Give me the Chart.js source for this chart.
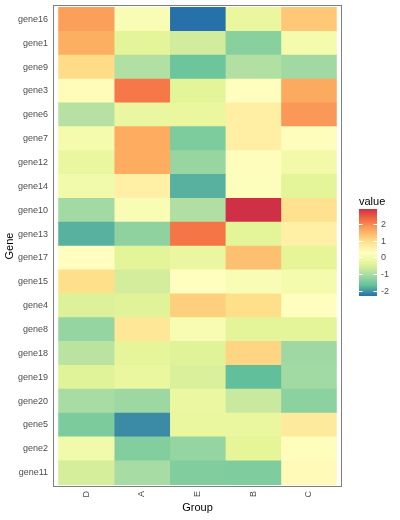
<!DOCTYPE html>
<html>
<head>
<meta charset="utf-8">
<script src="https://cdn.jsdelivr.net/npm/chart.js@4"></script>
<style>
  html, body { margin: 0; padding: 0; background: #fff; }
  #wrap { width: 400px; height: 520px; }
</style>
</head>
<body>
<div id="wrap"><canvas id="heatmap" width="400" height="520"></canvas></div>
<script>
// rows (top to bottom) and columns
var genes = ['gene16','gene1','gene9','gene3','gene6','gene7','gene12','gene14','gene10','gene13',
             'gene17','gene15','gene4','gene8','gene18','gene19','gene20','gene5','gene2','gene11'];
var groups = ['D', 'A', 'E', 'B', 'C'];

// values per group, in gene order
var valD = [1.75, 1.6, 1.0, 0.37, -0.9, 0.0, -0.24, -0.06, -1.1, -1.81, 0.31, 0.95, -0.46, -1.22, -0.85, -0.42, -1.05, -1.45, -0.06, -0.56];
var valA = [0.11, -0.38, -0.94, 2.15, -0.23, 1.63, 1.63, 0.62, 0.12, -1.28, -0.38, -0.57, -0.42, 0.79, -0.33, -0.24, -1.15, -2.12, -1.39, -1.05];
var valE = [-2.33, -0.6, -1.59, -0.38, -0.26, -1.44, -1.2, -1.81, -0.95, 2.18, -0.23, 0.31, 1.17, 0.1, -0.42, -0.5, -0.2, -0.24, -1.22, -1.4];
var valB = [-0.26, -1.33, -0.94, 0.31, 0.63, 0.63, 0.34, 0.25, 2.92, -0.38, 1.38, 0.12, 0.95, -0.38, 1.08, -1.7, -0.7, -0.26, -0.37, -1.42];
var valC = [1.26, 0.0, -1.12, 1.65, 1.83, 0.34, -0.05, -0.4, 0.9, 0.62, -0.37, 0.0, 0.31, -0.38, -1.13, -1.1, -1.3, 0.74, 0.33, 0.4];

var legendBreaks = [2, 1, 0, -1, -2];

var values = [valD, valA, valE, valB, valC];
var allVals = [].concat(valD, valA, valE, valB, valC);
var vmin = Math.min.apply(null, allVals);
var vmax = Math.max.apply(null, allVals);

// Spectral-like palette, low -> high
var palette = ['#2771ab', '#64c29a', '#abdda4', '#e6f598', '#ffffbf', '#fee08b', '#fdae61', '#f46d43', '#d03045'];
var rgbs = palette.map(function(h) {
    return [parseInt(h.substr(1, 2), 16), parseInt(h.substr(3, 2), 16), parseInt(h.substr(5, 2), 16)];
});

function colorOf(v) {
    var t = (v - vmin) / (vmax - vmin);
    t = Math.max(0, Math.min(1, t)) * (rgbs.length - 1);
    var i = Math.min(Math.floor(t), rgbs.length - 2);
    var f = t - i;
    var a = rgbs[i], b = rgbs[i + 1];
    return 'rgb(' + Math.round(a[0] + (b[0] - a[0]) * f) + ',' +
                    Math.round(a[1] + (b[1] - a[1]) * f) + ',' +
                    Math.round(a[2] + (b[2] - a[2]) * f) + ')';
}

var datasets = groups.map(function(g, c) {
    return {
        label: g,
        data: genes.map(function(gene, i) { return { x: [c, c + 1], y: i }; }),
        backgroundColor: values[c].map(colorOf),
        borderWidth: 0,
        barPercentage: 1,
        categoryPercentage: 1,
        grouped: false
    };
});

// panel border + colour bar legend
var extras = {
    id: 'extras',
    afterDatasetsDraw: function(chart) {
        var ctx = chart.ctx, a = chart.chartArea;
        ctx.save();
        ctx.strokeStyle = '#7f7f7f';
        ctx.lineWidth = 1;
        ctx.strokeRect(a.left + 0.5, a.top + 0.5, a.right - a.left - 1, a.bottom - a.top - 1);

        var bx = 359, bw = 18, top = 209, bottom = 296;
        var ppu = (bottom - top) / (vmax - vmin);
        for (var y = top; y < bottom; y++) {
            ctx.fillStyle = colorOf(vmax - (y + 0.5 - top) / ppu);
            ctx.fillRect(bx, y, bw, 1);
        }
        ctx.font = '11px "Liberation Sans", Arial, sans-serif';
        ctx.fillStyle = '#000';
        ctx.textBaseline = 'middle';
        ctx.textAlign = 'left';
        ctx.fillText('value', bx, 202);
        ctx.font = '9px "Liberation Sans", Arial, sans-serif';
        legendBreaks.forEach(function(v) {
            var yy = Math.round(top + (vmax - v) * ppu) + 0.5;
            ctx.strokeStyle = '#fff';
            ctx.beginPath();
            ctx.moveTo(bx, yy); ctx.lineTo(bx + 3.5, yy);
            ctx.moveTo(bx + bw - 3.5, yy); ctx.lineTo(bx + bw, yy);
            ctx.stroke();
            ctx.fillStyle = '#4d4d4d';
            ctx.fillText(String(v), 381, yy);
        });
        ctx.restore();
    }
};

var ctx = document.getElementById('heatmap').getContext('2d');
new Chart(ctx, {
    type: 'bar',
    data: { datasets: datasets },
    options: {
        indexAxis: 'y',
        responsive: false,
        animation: false,
        layout: { padding: { top: 5, right: 58, left: 0, bottom: 0 } },
        plugins: { legend: { display: false }, tooltip: { enabled: false } },
        scales: {
            x: {
                type: 'linear',
                min: -0.1,
                max: 5.1,
                offset: false,
                afterFit: function(s) { s.height = 33; s.paddingLeft = 0; s.paddingRight = 0; },
                afterBuildTicks: function(s) {
                    s.ticks = groups.map(function(g, i) { return { value: i + 0.5 }; });
                },
                grid: { display: false, drawTicks: false },
                border: { display: false },
                ticks: {
                    autoSkip: false,
                    minRotation: 90,
                    maxRotation: 90,
                    padding: 4,
                    color: '#4d4d4d',
                    font: { family: '"Liberation Sans", Arial, sans-serif', size: 9 },
                    callback: function(v) { return groups[Math.round(v - 0.5)]; }
                },
                title: {
                    display: true,
                    text: 'Group',
                    color: '#000',
                    padding: { top: 0, bottom: 5 },
                    font: { family: '"Liberation Sans", Arial, sans-serif', size: 11 }
                }
            },
            y: {
                type: 'linear',
                min: -0.6,
                max: 19.6,
                reverse: true,
                offset: false,
                afterFit: function(s) { s.width = 53; s.paddingTop = 0; s.paddingBottom = 0; },
                afterBuildTicks: function(s) {
                    s.ticks = genes.map(function(g, i) { return { value: i }; });
                },
                grid: { display: false, drawTicks: false },
                border: { display: false },
                ticks: {
                    autoSkip: false,
                    padding: 5,
                    color: '#4d4d4d',
                    font: { family: '"Liberation Sans", Arial, sans-serif', size: 9 },
                    callback: function(v) { return genes[Math.round(v)]; }
                },
                title: {
                    display: true,
                    text: 'Gene',
                    color: '#000',
                    padding: { top: 3, bottom: 0 },
                    font: { family: '"Liberation Sans", Arial, sans-serif', size: 11 }
                }
            }
        }
    },
    plugins: [extras]
});
</script>
</body>
</html>
